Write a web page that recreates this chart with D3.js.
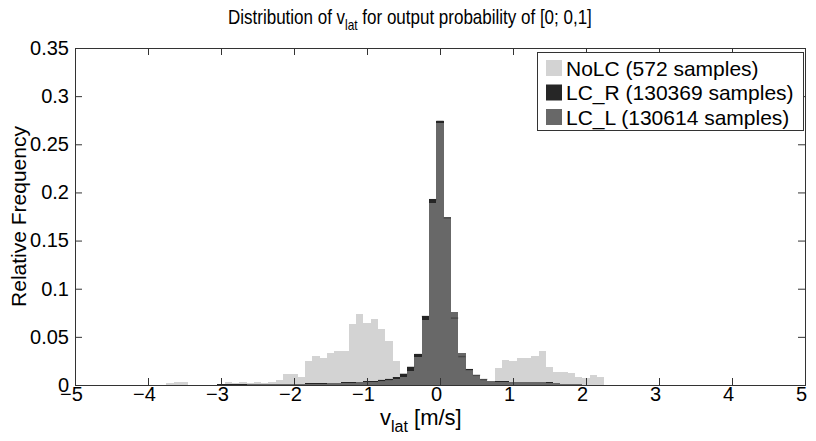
<!DOCTYPE html>
<html>
<head>
<meta charset="utf-8">
<script src="https://cdn.jsdelivr.net/npm/d3@7"></script>
<style>
  body { margin: 0; background: #fff; }
  text { font-family: "Liberation Sans", Arial, sans-serif; fill: #000; }
</style>
</head>
<body>
<svg id="chart" width="816" height="441"></svg>
<script>
// bin centres of the histogram (m/s)
const binCenters = [
  -3.9, -3.8, -3.7, -3.6, -3.5, -3.4, -3.3, -3.2, -3.1, -3.0,
  -2.9, -2.8, -2.7, -2.6, -2.5, -2.4, -2.3, -2.2, -2.1, -2.0,
  -1.9, -1.8, -1.7, -1.6, -1.5, -1.4, -1.3, -1.2, -1.1, -1.0,
  -0.9, -0.8, -0.7, -0.6, -0.5, -0.4, -0.3, -0.2, -0.1, 0.0,
  0.1, 0.2, 0.3, 0.4, 0.5, 0.6, 0.7, 0.8, 0.9, 1.0,
  1.1, 1.2, 1.3, 1.4, 1.5, 1.6, 1.7, 1.8, 1.9, 2.0,
  2.1, 2.2, 2.3, 2.4, 2.5
];

const noLC = [
  0, 0, 0.0017, 0.0035, 0.0035, 0, 0, 0, 0, 0,
  0.0035, 0.0017, 0.0035, 0.0017, 0.0035, 0.0017, 0.0035, 0.0052, 0.0114, 0.0114,
  0.0087, 0.0245, 0.0297, 0.0280, 0.0332, 0.0350, 0.0350, 0.0629, 0.0734, 0.0647,
  0.0682, 0.0577, 0.0455, 0.0245, 0.0122, 0.0017, 0.0035, 0.0052, 0.0070, 0.0087,
  0.0070, 0.0052, 0.0035, 0.0035, 0.0035, 0.0035, 0.0035, 0.0175, 0.0262, 0.0245,
  0.0280, 0.0280, 0.0297, 0.0350, 0.0192, 0.0140, 0.0140, 0.0122, 0.0087, 0.0070,
  0.0105, 0.0087, 0, 0, 0
];

const lcR = [
  0.0001, 0.0002, 0.0003, 0.0003, 0.0004, 0.0004, 0.0004, 0.0005, 0.0005, 0.0006,
  0.0006, 0.0007, 0.0007, 0.0008, 0.0008, 0.0009, 0.0010, 0.0011, 0.0012, 0.0013,
  0.0014, 0.0016, 0.0018, 0.0020, 0.0022, 0.0025, 0.0028, 0.0031, 0.0035, 0.0039,
  0.0045, 0.0052, 0.0062, 0.0080, 0.0114, 0.0190, 0.0322, 0.0717, 0.1930, 0.2745,
  0.1740, 0.0700, 0.0300, 0.0165, 0.0106, 0.0062, 0.0045, 0.0038, 0.0037, 0.0036,
  0.0036, 0.0036, 0.0034, 0.0031, 0.0026, 0.0019, 0.0014, 0.0010, 0.0007, 0.0005,
  0.0004, 0.0003, 0.0002, 0.0001, 0.0001
];

const lcL = [
  0.0001, 0.0002, 0.0002, 0.0002, 0.0003, 0.0003, 0.0003, 0.0004, 0.0004, 0.0004,
  0.0005, 0.0005, 0.0005, 0.0006, 0.0006, 0.0007, 0.0007, 0.0008, 0.0009, 0.0010,
  0.0011, 0.0012, 0.0013, 0.0015, 0.0017, 0.0019, 0.0021, 0.0024, 0.0027, 0.0030,
  0.0036, 0.0042, 0.0050, 0.0065, 0.0087, 0.0149, 0.0294, 0.0675, 0.1890, 0.2724,
  0.1745, 0.0760, 0.0330, 0.0160, 0.0100, 0.0058, 0.0040, 0.0033, 0.0032, 0.0032,
  0.0031, 0.0031, 0.0030, 0.0028, 0.0024, 0.0018, 0.0013, 0.0009, 0.0006, 0.0004,
  0.0003, 0.0002, 0.0002, 0.0001, 0.0001
];

const seriesLabels = ["NoLC (572 samples)", "LC_R (130369 samples)", "LC_L (130614 samples)"];
const seriesColors = ["#d3d3d3", "#262626", "#686868"];
const xTicks = [-5, -4, -3, -2, -1, 0, 1, 2, 3, 4, 5];
const yTicks = [0, 0.05, 0.1, 0.15, 0.2, 0.25, 0.3, 0.35];

const binWidth = 0.1;

var svg = d3.select("#chart"),
  margin = { top: 48, right: 11, bottom: 56, left: 75 },
  width = +svg.attr("width") - margin.left - margin.right,
  height = +svg.attr("height") - margin.top - margin.bottom;

var x = d3.scaleLinear().domain([-5, 5]).range([0, width]);
var y = d3.scaleLinear().domain([0, 0.35]).range([height, 0]);

var g = svg.append("g")
  .attr("transform", "translate(" + margin.left + "," + margin.top + ")");

var series = [noLC, lcR, lcL].map(function(values, i) {
  return {
    label: seriesLabels[i],
    color: seriesColors[i],
    bins: binCenters.map(function(c, j) { return { c: c, v: values[j] }; })
  };
});

// histograms overlap: NoLC at the back, then LC_R, LC_L in front
series.forEach(function(s, i) {
  g.selectAll(".bar" + i)
    .data(s.bins.filter(function(d) { return d.v > 0; }))
    .enter()
    .append("rect")
    .attr("class", "bar" + i)
    .attr("x", function(d) { return x(d.c - binWidth / 2); })
    .attr("width", function(d) { return x(d.c + binWidth / 2) - x(d.c - binWidth / 2); })
    .attr("y", function(d) { return y(d.v); })
    .attr("height", function(d) { return y(0) - y(d.v); })
    .attr("fill", s.color)
    .attr("shape-rendering", "crispEdges");
});

// top edges of LC_R bars show through LC_L
g.selectAll(".edgeR")
  .data(series[1].bins.filter(function(d) { return d.v > 0.005; }))
  .enter()
  .append("line")
  .attr("class", "edgeR")
  .attr("x1", function(d) { return x(d.c - binWidth / 2); })
  .attr("x2", function(d) { return x(d.c + binWidth / 2); })
  .attr("y1", function(d) { return y(d.v) + 0.5; })
  .attr("y2", function(d) { return y(d.v) + 0.5; })
  .attr("stroke", "#262626")
  .attr("stroke-opacity", 0.45)
  .attr("stroke-width", 1.5);

// axes, MATLAB style: box with inward ticks
var fmt = function(d) { return d === 0 ? "0" : String(+d.toFixed(2)); };

function styleAxis(sel) {
  sel.select(".domain").remove();
  sel.selectAll(".tick line").attr("stroke", "#333");
  sel.selectAll(".tick text")
    .style("font-family", '"Liberation Sans", Arial, sans-serif')
    .style("font-size", "20px")
    .attr("fill", "#000");
}

g.append("g")
  .attr("transform", "translate(0," + height + ")")
  .call(d3.axisBottom(x).tickValues(xTicks).tickFormat(d3.format("d"))
    .tickSizeInner(-7).tickSizeOuter(0).tickPadding(2))
  .call(styleAxis)
  .selectAll(".tick text").attr("dx", -4);

g.append("g")
  .call(d3.axisTop(x).tickValues(xTicks).tickFormat("")
    .tickSizeInner(-7).tickSizeOuter(0))
  .call(styleAxis);

g.append("g")
  .call(d3.axisLeft(y).tickValues(yTicks).tickFormat(fmt)
    .tickSizeInner(-7).tickSizeOuter(0).tickPadding(6))
  .call(styleAxis);

g.append("g")
  .attr("transform", "translate(" + width + ",0)")
  .call(d3.axisRight(y).tickValues(yTicks).tickFormat("")
    .tickSizeInner(-7).tickSizeOuter(0))
  .call(styleAxis);

g.append("rect")
  .attr("x", 0.5).attr("y", 0.5)
  .attr("width", width).attr("height", height)
  .attr("fill", "none")
  .attr("stroke", "#333")
  .attr("shape-rendering", "crispEdges");

// legend
var legend = g.append("g").attr("transform", "translate(" + (width - 268) + ",4)");
legend.append("rect")
  .attr("x", 0.5).attr("y", 0.5)
  .attr("width", 266).attr("height", 78)
  .attr("fill", "#fff")
  .attr("stroke", "#333")
  .attr("shape-rendering", "crispEdges");

var items = legend.selectAll(".item")
  .data(series)
  .enter()
  .append("g")
  .attr("class", "item")
  .attr("transform", function(d, i) { return "translate(9," + (8 + i * 24.5) + ")"; });

items.append("rect")
  .attr("width", 16).attr("height", 16)
  .attr("fill", function(d) { return d.color; });

items.append("text")
  .attr("x", 20).attr("y", 8)
  .attr("dy", "0.36em")
  .style("font-size", "21px")
  .text(function(d) { return d.label; });

// title (narrow, like the original rendering)
var title = svg.append("g")
  .attr("transform", "translate(228,24) scale(0.85,1)")
  .append("text")
  .style("font-size", "20px");
title.append("tspan").text("Distribution of v");
title.append("tspan").attr("dy", 6).style("font-size", "14px").text("lat");
title.append("tspan").attr("dy", -6).text(" for output probability of [0; 0,1]");

// x label
var xlab = svg.append("text")
  .attr("x", 380)
  .attr("y", 425)
  .style("font-size", "22px");
xlab.append("tspan").text("v");
xlab.append("tspan").attr("dy", 7).style("font-size", "16px").text("lat");
xlab.append("tspan").attr("dy", -7).text(" [m/s]");

// y label
svg.append("text")
  .attr("transform", "translate(26," + (margin.top + height / 2) + ") rotate(-90)")
  .attr("text-anchor", "middle")
  .style("font-size", "21px")
  .text("Relative Frequency");
</script>
</body>
</html>
